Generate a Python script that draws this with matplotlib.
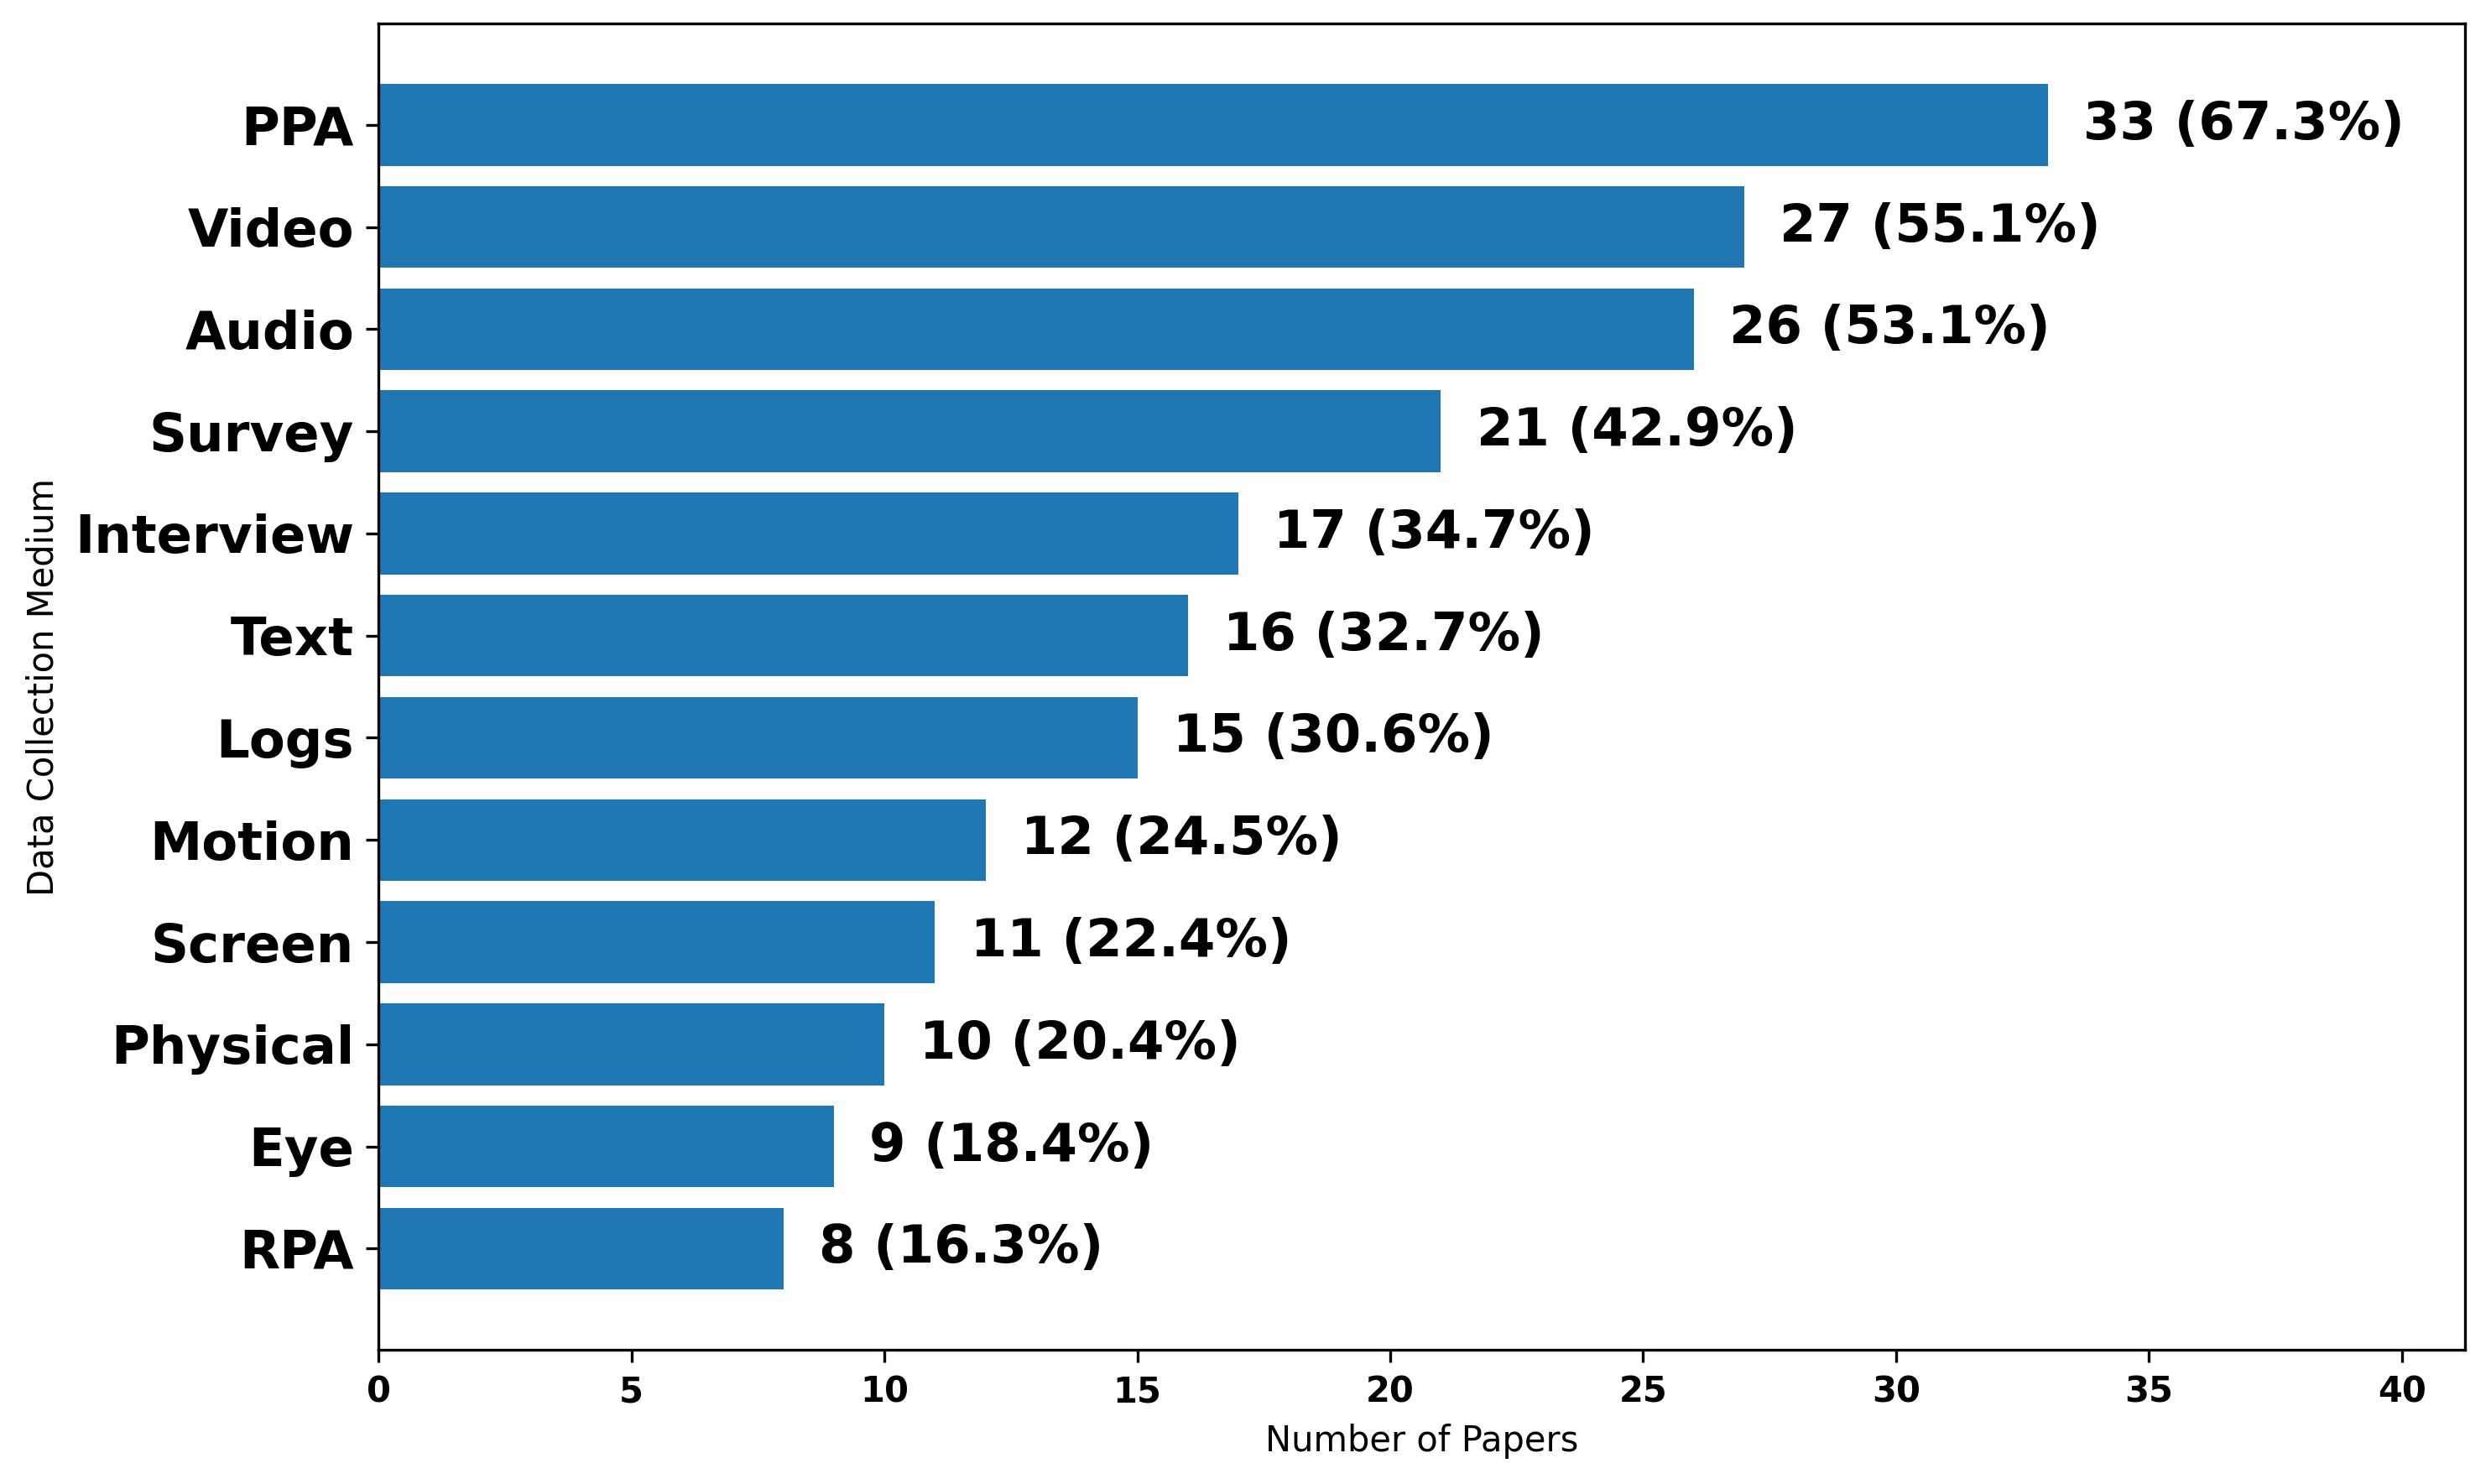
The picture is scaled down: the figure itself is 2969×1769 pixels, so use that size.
import matplotlib.pyplot as plt

# data
categories = ["PPA", "Video", "Audio", "Survey", "Interview", "Text",
              "Logs", "Motion", "Screen", "Physical", "Eye", "RPA"]
counts = [33, 27, 26, 21, 17, 16, 15, 12, 11, 10, 9, 8]
total_papers = 49

fig = plt.figure(figsize=(2969 / 300, 1769 / 300), dpi=300)
ax = fig.add_axes([0.152, 0.0905, 0.8376, 0.8935])

# largest on top
cats = categories[::-1]
vals = counts[::-1]
ax.barh(cats, vals, color="#1f77b4", height=0.8)

for i, v in enumerate(vals):
    ax.text(v + 0.7, i, "{} ({:.1f}%)".format(v, 100 * v / total_papers),
            va="center", ha="left", fontsize=15, fontweight="bold")

ax.set_xlim(0, max(counts) * 1.25)
ax.set_xlabel("Number of Papers", fontsize=10)
ax.set_ylabel("Data Collection Medium", fontsize=10)

for lab in ax.get_yticklabels():
    lab.set_fontsize(15)
    lab.set_fontweight("bold")
for lab in ax.get_xticklabels():
    lab.set_fontsize(10)
    lab.set_fontweight("bold")

fig.savefig("out.png", dpi=300)
